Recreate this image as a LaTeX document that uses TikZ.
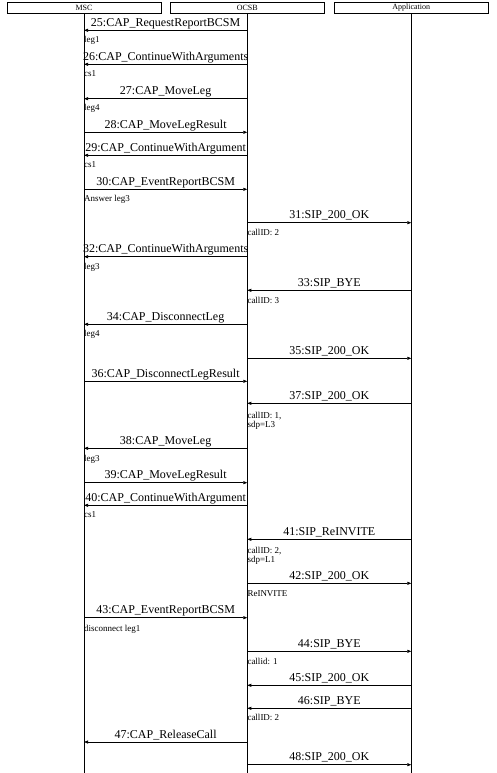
\documentclass[tikz,border=0pt]{standalone}
\usepackage{fontspec}
\setmainfont{Liberation Serif}
\usetikzlibrary{arrows.meta}
\tikzset{
  hdr/.style={draw, line width=0.7pt, inner sep=0pt, minimum width=154pt, minimum height=10.6pt, font=\fontsize{8}{8}\selectfont},
  life/.style={line width=0.7pt},
  msgline/.style={line width=0.7pt, -{Triangle[length=4pt,width=3pt]}},
  lbl/.style={anchor=base, inner sep=0pt, yshift=4pt, font=\fontsize{12}{12}\selectfont},
  note/.style={anchor=base west, inner sep=0pt, font=\fontsize{9}{9}\selectfont}
}
\newcommand\seqmsg[5]{%
  \path (0,#2) coordinate (y#1);
  \coordinate (s#1) at (#3.south |- y#1);
  \coordinate (e#1) at (#4.south |- y#1);
  \draw[msgline] (s#1) -- (e#1) node[lbl, midway] (l#1) {#5};
}
\newcommand\seqnote[4]{%
  \path (0,#2) coordinate (ny#1);
  \node[note] (#1) at (#3.south |- ny#1) {#4};
}
\begin{document}
\begin{tikzpicture}[x=1pt,y=-1pt]
\useasboundingbox (0,0) rectangle (497,773);
\fill[white] (0,0) rectangle (497,773);
\node[hdr] (msc) at (84,8) {MSC};
\node[hdr] (ocsb) at (247.3,8) {OCSB};
\node[hdr] (app) at (411.3,8) {Application};
\coordinate (bottom) at (0,773);
\draw[life] (msc.south) -- (msc.south |- bottom);
\draw[life] (ocsb.south) -- (ocsb.south |- bottom);
\draw[life] (app.south) -- (app.south |- bottom);

\seqmsg{25}{30.3}{ocsb}{msc}{25:CAP\_RequestReportBCSM}
\seqnote{n25}{42.5}{msc}{leg1}
\seqmsg{26}{64.3}{ocsb}{msc}{26:CAP\_ContinueWithArguments}
\seqnote{n26}{76.5}{msc}{cs1}
\seqmsg{27}{98.7}{ocsb}{msc}{27:CAP\_MoveLeg}
\seqnote{n27}{111}{msc}{leg4}
\seqmsg{28}{132.3}{msc}{ocsb}{28:CAP\_MoveLegResult}
\seqmsg{29}{155.3}{ocsb}{msc}{29:CAP\_ContinueWithArgument}
\seqnote{n29}{167.5}{msc}{cs1}
\seqmsg{30}{189.3}{msc}{ocsb}{30:CAP\_EventReportBCSM}
\seqnote{n30}{201.5}{msc}{Answer leg3}
\seqmsg{31}{222.7}{ocsb}{app}{31:SIP\_200\_OK}
\seqnote{n31}{235.5}{ocsb}{callID: 2}
\seqmsg{32}{256.7}{ocsb}{msc}{32:CAP\_ContinueWithArguments}
\seqnote{n32}{269}{msc}{leg3}
\seqmsg{33}{290.3}{app}{ocsb}{33:SIP\_BYE}
\seqnote{n33}{303}{ocsb}{callID: 3}
\seqmsg{34}{324.3}{ocsb}{msc}{34:CAP\_DisconnectLeg}
\seqnote{n34}{336.5}{msc}{leg4}
\seqmsg{35}{358.3}{ocsb}{app}{35:SIP\_200\_OK}
\seqmsg{36}{381.3}{msc}{ocsb}{36:CAP\_DisconnectLegResult}
\seqmsg{37}{403.3}{app}{ocsb}{37:SIP\_200\_OK}
\seqnote{n37}{418.3}{ocsb}{callID: 1,}
\seqnote{n37b}{427.5}{ocsb}{sdp=L3}
\seqmsg{38}{448.3}{ocsb}{msc}{38:CAP\_MoveLeg}
\seqnote{n38}{461}{msc}{leg3}
\seqmsg{39}{482.7}{msc}{ocsb}{39:CAP\_MoveLegResult}
\seqmsg{40}{505.3}{ocsb}{msc}{40:CAP\_ContinueWithArgument}
\seqnote{n40}{517.5}{msc}{cs1}
\seqmsg{41}{539.3}{app}{ocsb}{41:SIP\_ReINVITE}
\seqnote{n41}{553}{ocsb}{callID: 2,}
\seqnote{n41b}{562.5}{ocsb}{sdp=L1}
\seqmsg{42}{583.3}{ocsb}{app}{42:SIP\_200\_OK}
\seqnote{n42}{596}{ocsb}{ReINVITE}
\seqmsg{43}{617.7}{msc}{ocsb}{43:CAP\_EventReportBCSM}
\seqnote{n43}{631}{msc}{disconnect leg1}
\seqmsg{44}{651.3}{ocsb}{app}{44:SIP\_BYE}
\seqnote{n44}{664}{ocsb}{callid: 1}
\seqmsg{45}{685.3}{app}{ocsb}{45:SIP\_200\_OK}
\seqmsg{46}{708.3}{app}{ocsb}{46:SIP\_BYE}
\seqnote{n46}{720.5}{ocsb}{callID: 2}
\seqmsg{47}{742}{ocsb}{msc}{47:CAP\_ReleaseCall}
\seqmsg{48}{764.7}{ocsb}{app}{48:SIP\_200\_OK}
\end{tikzpicture}
\end{document}
